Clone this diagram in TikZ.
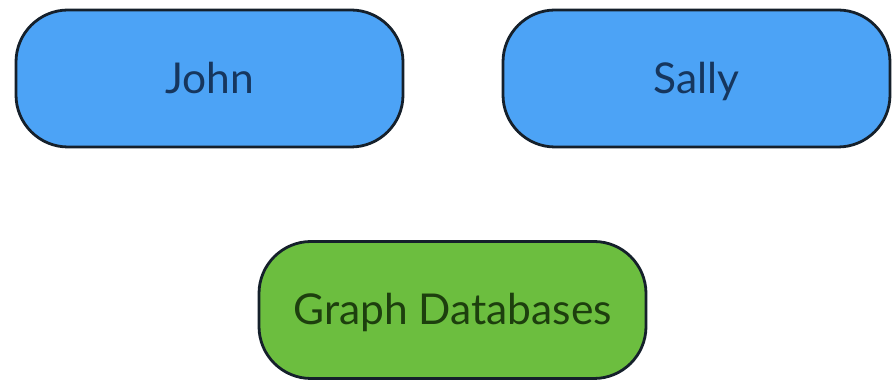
\documentclass[tikz,border=0pt]{standalone}
\usepackage{fontspec}
\setmainfont{Lato}
\usetikzlibrary{positioning}
\definecolor{person}{HTML}{4CA3F6}
\definecolor{persontext}{HTML}{16365E}
\definecolor{topic}{HTML}{6CBE3F}
\definecolor{topictext}{HTML}{1D3F0E}
\definecolor{edge}{HTML}{15202B}

\begin{document}
\begin{tikzpicture}[x=1pt,y=1pt,
  box/.style={draw=edge,line width=2.8pt,rounded corners=52pt,
    minimum width=387pt,minimum height=137pt,
    text height=30pt,text depth=0pt,
    font=\fontsize{42.5}{50}\selectfont},
  personbox/.style={box,fill=person,text=persontext},
  topicbox/.style={box,fill=topic,text=topictext}]
  \useasboundingbox (0,0) rectangle (892,380);

  % People
  \node[personbox] (john) at (209.5,301.5) {John};
  \node[personbox] (sally) at (696.5,301.5) {Sally};

  % Topic
  \node[topicbox] (graphdb) at (452.5,70) {Graph Databases};
\end{tikzpicture}
\end{document}
